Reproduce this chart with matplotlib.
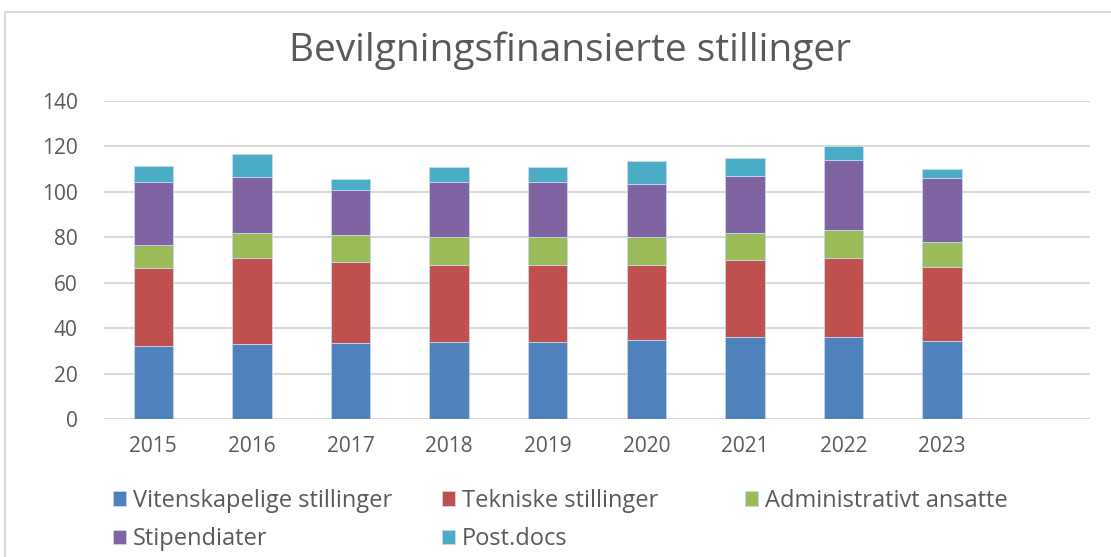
import numpy as np
import matplotlib.pyplot as plt
from matplotlib.patches import Rectangle

# data
years = ['2015', '2016', '2017', '2018', '2019', '2020', '2021', '2022', '2023', '']
vitenskapelige = [32, 33, 33.5, 34, 34, 35, 36, 36, 34.5, 0]
tekniske = [34.5, 38, 35.5, 34, 34, 33, 34, 35, 32.5, 0]
administrativt = [10, 11, 12, 12, 12, 12, 12, 12, 11, 0]
stipendiater = [28, 24.5, 20, 24.5, 24.5, 23.5, 25, 31, 28, 0]
postdocs = [7, 10, 4.5, 6.5, 6.5, 10, 8, 6, 4, 0]

series = [vitenskapelige, tekniske, administrativt, stipendiater, postdocs]
labels = ['Vitenskapelige stillinger', 'Tekniske stillinger', 'Administrativt ansatte',
          'Stipendiater', 'Post.docs']
colors = ['#4F81BD', '#C0504D', '#9BBB59', '#8064A2', '#4BACC6']

plt.rcParams['font.family'] = ['Open Sans', 'DejaVu Sans']

fig = plt.figure(figsize=(11.11, 5.57), dpi=100)
ax = fig.add_axes([104/1111, 1-419/557, (1090-104)/1111, (419-101)/557])

x = np.arange(len(years))
bottom = np.zeros(len(years))
handles = []
for vals, lab, col in zip(series, labels, colors):
    vals = np.array(vals, dtype=float)
    b = ax.bar(x, vals, 0.4, bottom=bottom, color=col, edgecolor='#c8d8ec',
               linewidth=0.6, label=lab, zorder=3)
    handles.append(b)
    bottom += vals

ax.set_xlim(-0.5, len(years) - 0.5)
ax.set_ylim(0, 140)
ax.set_yticks(range(0, 141, 20))
ax.set_xticks(x)
ax.set_xticklabels(years)
ax.grid(axis='y', color='#d9d9d9', linewidth=1.5, zorder=0)
for s in ax.spines.values():
    s.set_visible(False)
ax.tick_params(length=0, labelsize=15, colors='#595959', pad=12)
ax.tick_params(axis='y', pad=19)

fig.text(0.513, 1-51/557, 'Bevilgningsfinansierte stillinger', ha='center', va='center',
         fontsize=28, color='#595959')

# legend in three columns like excel
cols = [([0, 3], 101), ([1, 4], 430), ([2], 733)]
for idx, xp in cols:
    lg = fig.legend([handles[i] for i in idx], [labels[i] for i in idx],
                    loc='upper left', bbox_to_anchor=(xp/1111, 1-477/557),
                    frameon=False, fontsize=17, handlelength=0.55, handleheight=0.55,
                    handletextpad=0.3, labelspacing=0.6, borderpad=0, labelcolor='#595959')

# outer chart border
fig.patches.append(Rectangle((5/1111, -0.05), 1.1, 1-12/557+0.05, transform=fig.transFigure,
                             fill=False, edgecolor='#d9d9d9', linewidth=1.5))

fig.savefig('out.png', dpi=100)
